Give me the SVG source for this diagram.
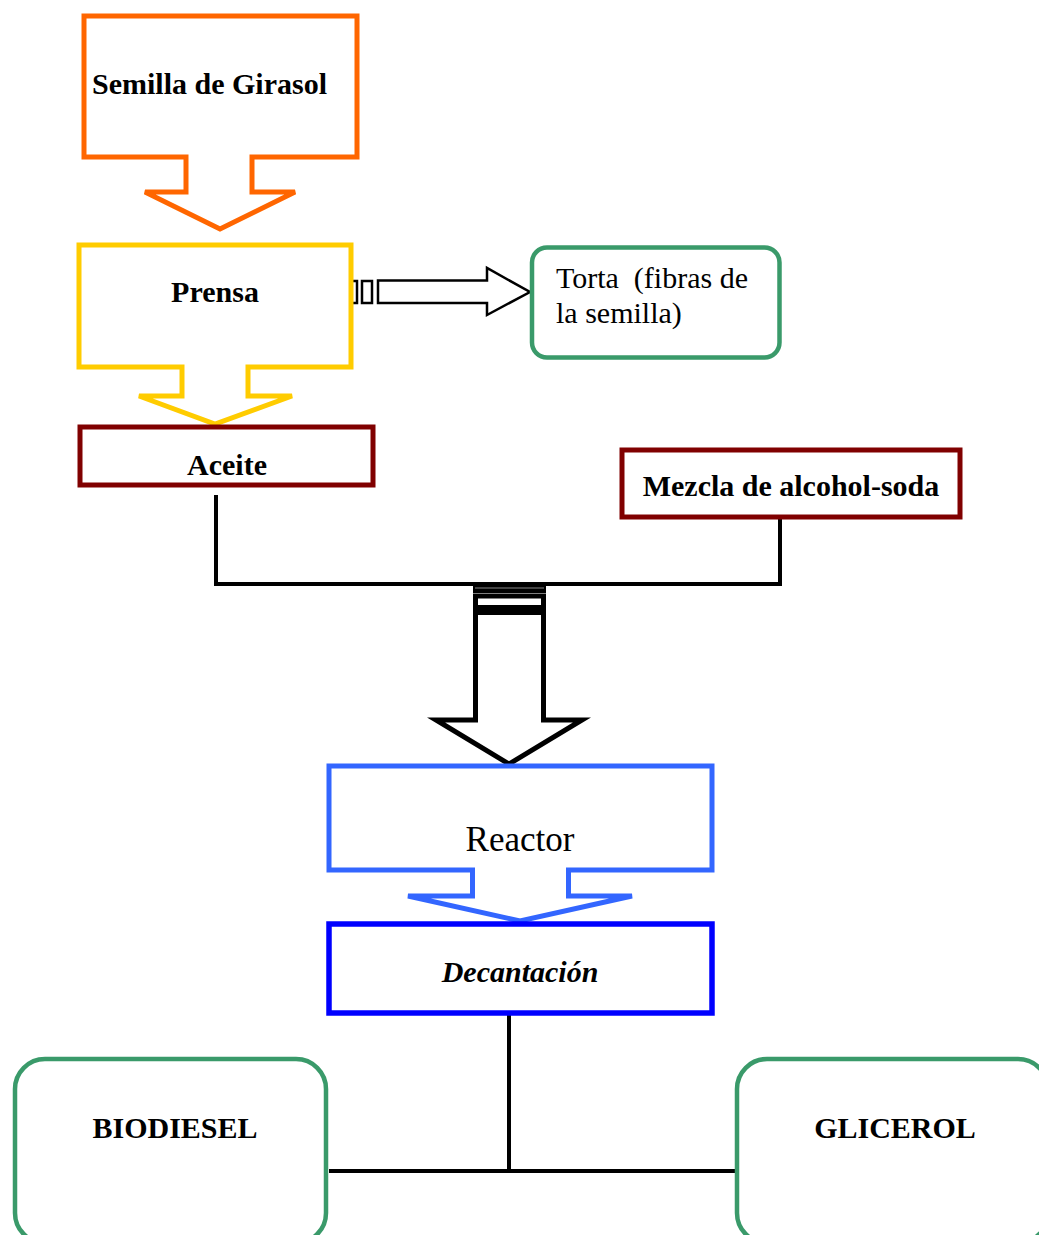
<svg xmlns="http://www.w3.org/2000/svg" width="1039" height="1235" viewBox="0 0 1039 1235">
<style>
.t{font-family:"Liberation Serif","Times New Roman",serif;font-size:30px;fill:#000}
.b{font-weight:bold}
.bl{fill:#fff;stroke-width:5;stroke-linejoin:miter}
.ln{fill:none;stroke:#000;stroke-width:4}
.ar{fill:#fff;stroke:#000;stroke-width:2.5}
</style>
<rect width="1039" height="1235" fill="#fff"/>
<g id="connectors">
<polyline class="ln" points="216,495 216,584 780,584 780,518"/>
<polyline class="ln" points="509,1015 509,1171"/>
<line class="ln" x1="329" y1="1171" x2="737" y2="1171" stroke-width="5"/>
<g id="arrow-torta">
<rect class="ar" x="351" y="281" width="6" height="22"/>
<rect class="ar" x="362" y="281" width="10" height="22"/>
<polygon class="ar" points="378,280.5 487,280.5 487,268 530,292 487,315 487,303 378,303"/>
</g>
<g id="arrow-reactor">
<rect x="473" y="582" width="73" height="11" fill="#000"/>
<line x1="475" y1="588" x2="544" y2="588" stroke="#888" stroke-width="1"/>
<rect x="475.5" y="596" width="68" height="11.5" fill="#fff" stroke="#000" stroke-width="5"/>
<polygon points="475.5,612.5 543.5,612.5 543.5,720 582,720 509,764 436,720 475.5,720" fill="#fff" stroke="#000" stroke-width="5"/>
</g>
</g>
<g id="semilla">
<polygon class="bl" stroke="#FF6600" points="84,16 357,16 357,157 252,157 252,192 295,192 220,229 145,192 186,192 186,157 84,157"/>
<text class="t b" x="92" y="94">Semilla de Girasol</text>
</g>
<g id="prensa">
<polygon class="bl" stroke="#FFCC00" points="79,245 351,245 351,367 248,367 248,396 292,396 215,424 139,396 182,396 182,367 79,367"/>
<text class="t b" x="215" y="302" text-anchor="middle">Prensa</text>
</g>
<g id="torta">
<rect x="532" y="247.5" width="247.5" height="110" rx="15" fill="#fff" stroke="#3A9A6A" stroke-width="4.5"/>
<text class="t" x="556" y="288" xml:space="preserve">Torta  (fibras de</text>
<text class="t" x="556" y="323">la semilla)</text>
</g>
<g id="aceite">
<rect x="80" y="427" width="293" height="58" fill="#fff" stroke="#800000" stroke-width="5"/>
<text class="t b" x="227" y="475" text-anchor="middle">Aceite</text>
</g>
<g id="mezcla">
<rect x="622" y="450" width="338" height="67" fill="#fff" stroke="#800000" stroke-width="5"/>
<text class="t b" x="791" y="496" text-anchor="middle">Mezcla de alcohol-soda</text>
</g>
<g id="reactor">
<polygon class="bl" stroke="#3366FF" points="329,766 712,766 712,870 568.5,870 568.5,896 632,896 520,921 408,896 472.5,896 472.5,870 329,870"/>
<text class="t" x="520" y="851" text-anchor="middle" font-size="35" style="font-size:35px">Reactor</text>
</g>
<g id="decantacion">
<rect x="329" y="924" width="383" height="89" fill="#fff" stroke="#0000FF" stroke-width="5.5"/>
<text class="t b" x="520" y="982" text-anchor="middle" font-style="italic">Decantación</text>
</g>
<g id="biodiesel">
<rect x="15" y="1059" width="311" height="184" rx="30" fill="#fff" stroke="#3A9A6A" stroke-width="4.5"/>
<text class="t b" x="175" y="1138" text-anchor="middle">BIODIESEL</text>
</g>
<g id="glicerol">
<rect x="737" y="1059" width="311" height="184" rx="30" fill="#fff" stroke="#3A9A6A" stroke-width="4.5"/>
<text class="t b" x="895" y="1138" text-anchor="middle">GLICEROL</text>
</g>
</svg>
